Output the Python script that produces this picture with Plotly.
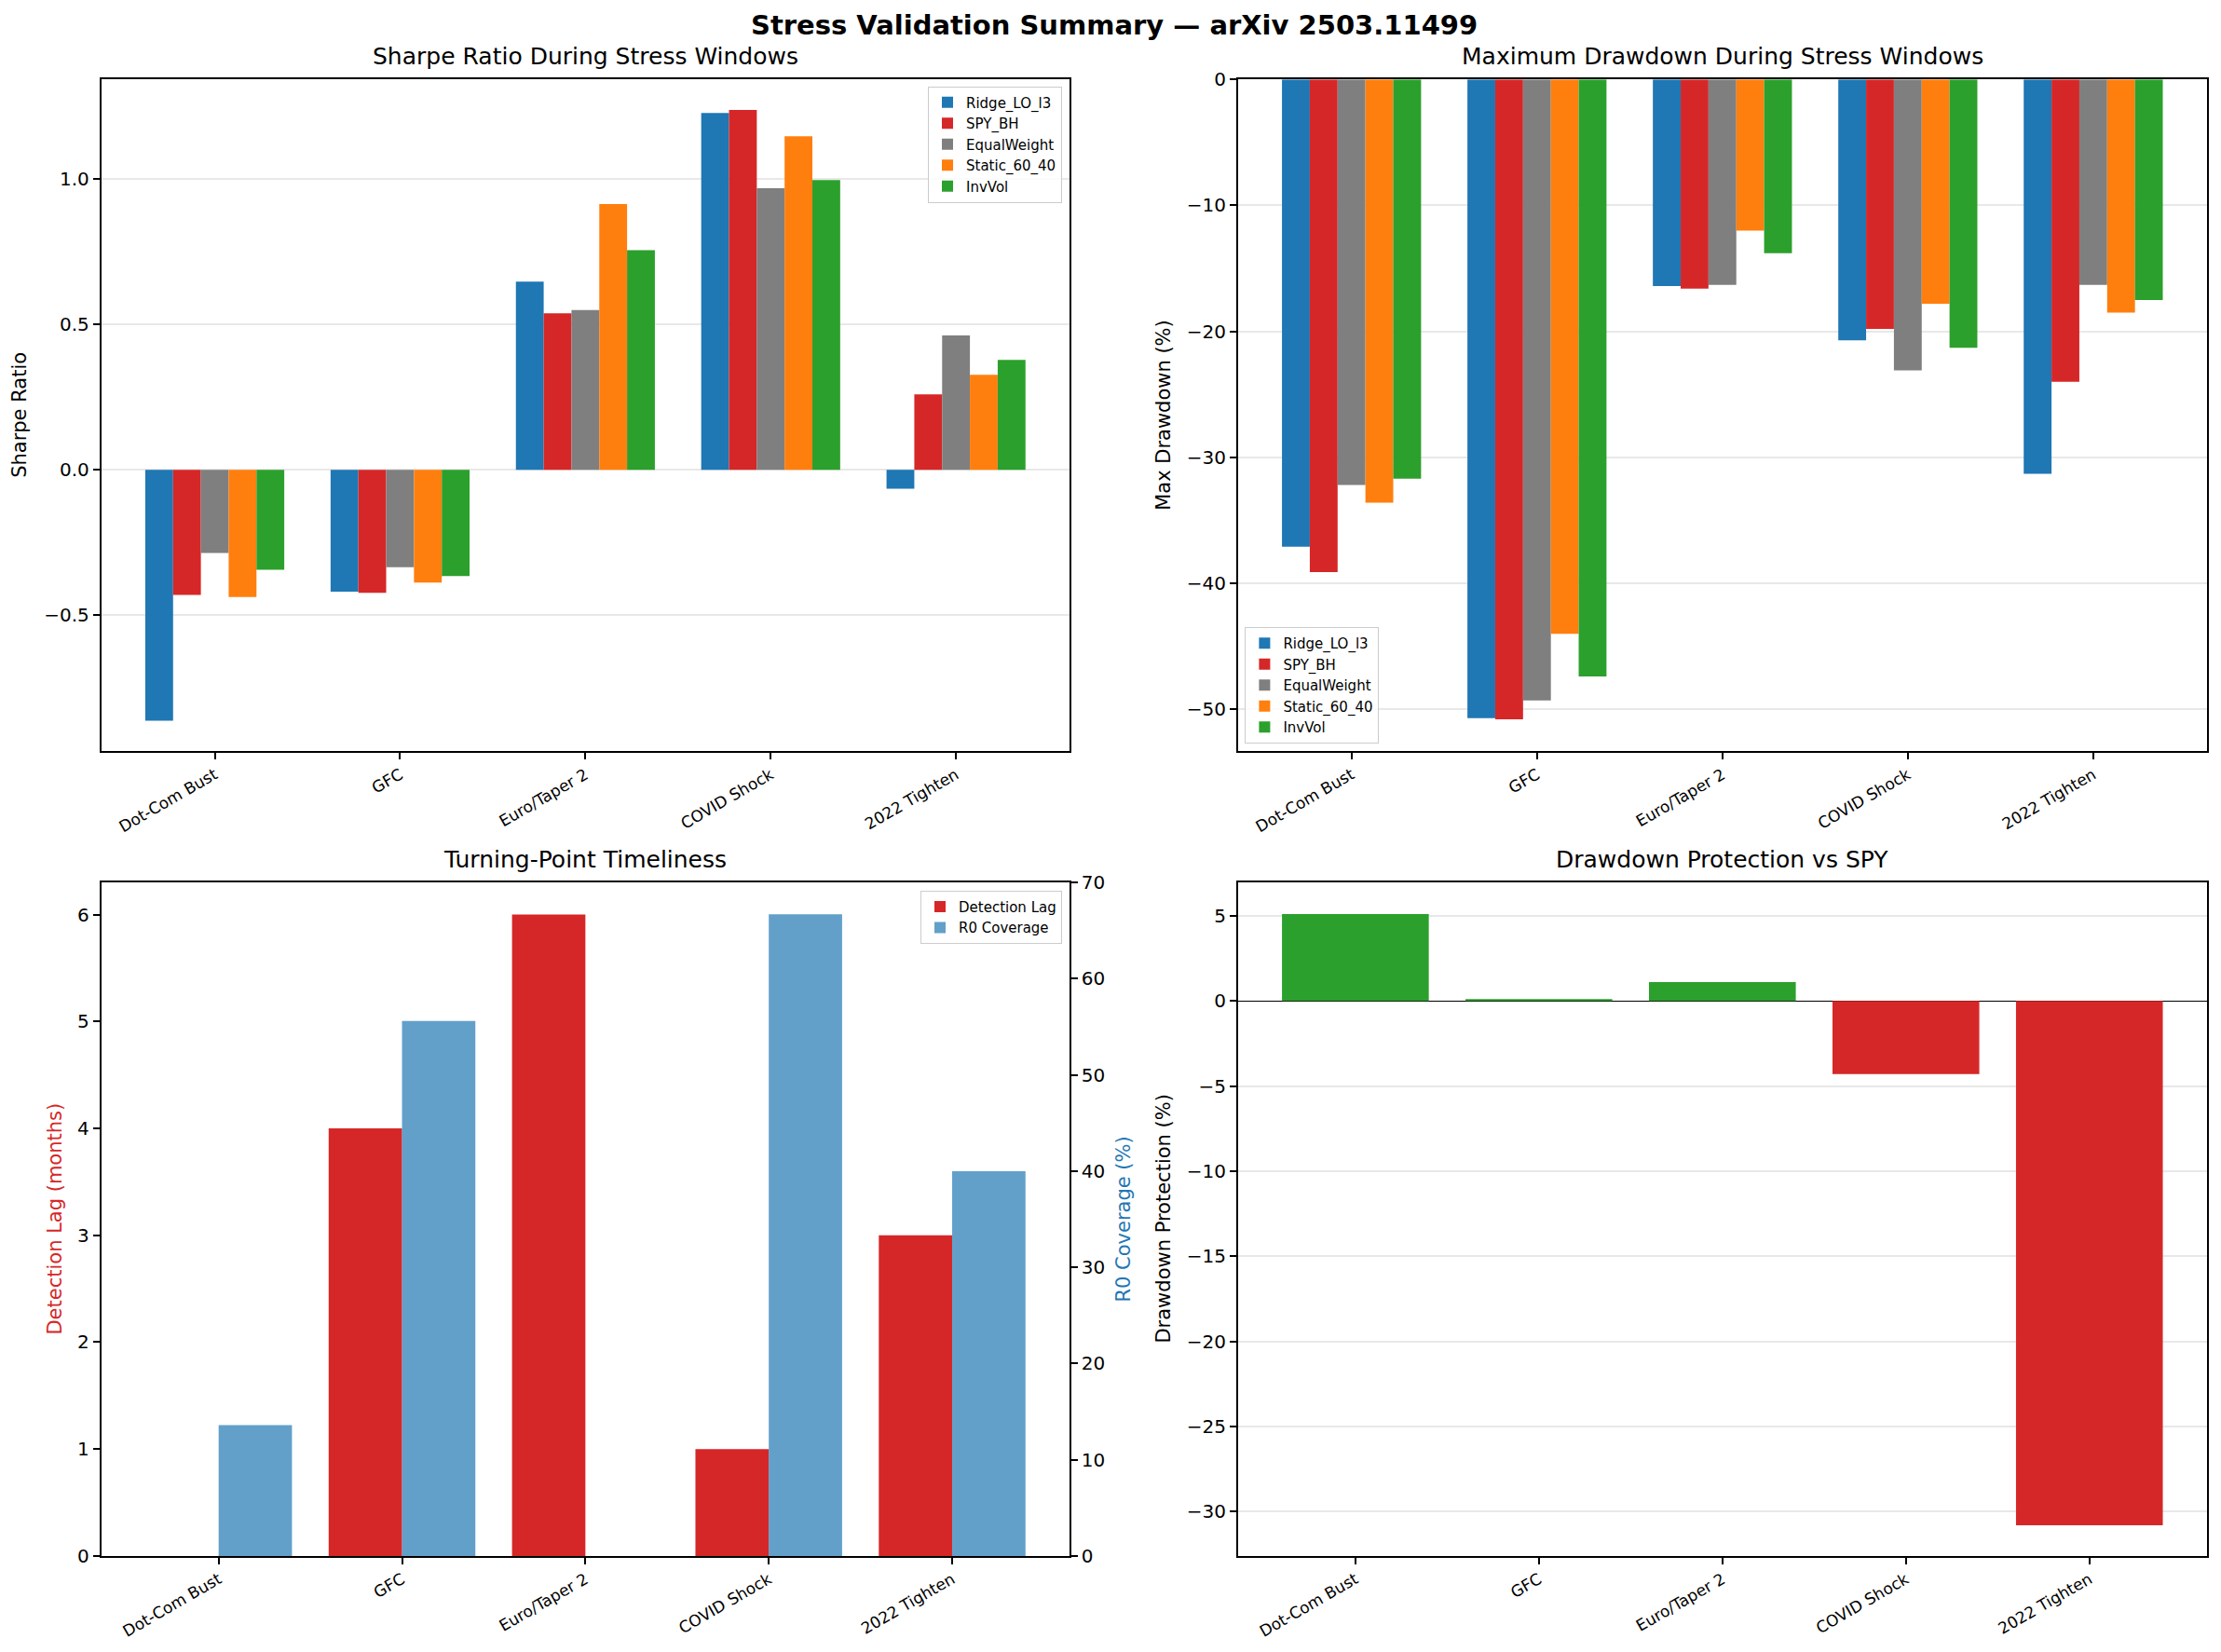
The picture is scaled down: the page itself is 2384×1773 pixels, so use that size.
import plotly.graph_objects as go

# 数据
windows = ['Dot-Com Bust', 'GFC', 'Euro/Taper 2', 'COVID Shock', '2022 Tighten']
strategies = ['Ridge_LO_l3', 'SPY_BH', 'EqualWeight', 'Static_60_40', 'InvVol']
strat_colors = ['#1f77b4', '#d62728', '#7f7f7f', '#ff7f0e', '#2ca02c']

sharpe = {
    'Ridge_LO_l3': [-0.863, -0.419, 0.647, 1.227, -0.065],
    'SPY_BH': [-0.430, -0.423, 0.538, 1.237, 0.259],
    'EqualWeight': [-0.286, -0.335, 0.549, 0.968, 0.462],
    'Static_60_40': [-0.437, -0.388, 0.914, 1.147, 0.327],
    'InvVol': [-0.344, -0.365, 0.755, 0.996, 0.378],
}
max_dd = {
    'Ridge_LO_l3': [-37.1, -50.7, -16.4, -20.7, -31.3],
    'SPY_BH': [-39.1, -50.8, -16.6, -19.8, -24.0],
    'EqualWeight': [-32.2, -49.3, -16.3, -23.1, -16.3],
    'Static_60_40': [-33.6, -44.0, -12.0, -17.8, -18.5],
    'InvVol': [-31.7, -47.4, -13.8, -21.3, -17.5],
}
detection_lag = [0, 4, 6, 1, 3]
r0_coverage = [13.6, 55.6, 0.0, 66.7, 40.0]
dd_protection = [5.1, 0.1, 1.1, -4.3, -30.8]

W, H = 2384, 1773
OFF = 8  # 页面 body 默认 8px 边距
FONT = 'DejaVu Sans'
pos = list(range(len(windows)))


def px_x(v):
    return (v - OFF) / W


def px_y(v):
    return 1 - (v - OFF) / H


# 子图位置 (left, right, top, bottom) 像素
boxes = {
    1: (108.7, 1148, 85.3, 806.4),
    2: (1328.8, 2368.8, 85.3, 806.4),
    3: (108.7, 1148, 947.2, 1669.9),
    4: (1328.8, 2368.8, 947.2, 1669.9),
}

fig = go.Figure()

# 1) Sharpe
bw = 0.15
for i, s in enumerate(strategies):
    fig.add_trace(go.Bar(x=pos, y=sharpe[s], name=s, width=bw, offset=-0.375 + i * bw,
                         marker=dict(color=strat_colors[i], line=dict(width=0)),
                         xaxis='x', yaxis='y', legend='legend'))

# 2) Max drawdown
for i, s in enumerate(strategies):
    fig.add_trace(go.Bar(x=pos, y=max_dd[s], name=s, width=bw, offset=-0.375 + i * bw,
                         marker=dict(color=strat_colors[i], line=dict(width=0)),
                         xaxis='x2', yaxis='y2', legend='legend2'))

# 3) Turning-point timeliness
fig.add_trace(go.Bar(x=pos, y=detection_lag, name='Detection Lag', width=0.4, offset=-0.4,
                     marker=dict(color='#d62728', line=dict(width=0)),
                     xaxis='x3', yaxis='y3', legend='legend3'))
fig.add_trace(go.Bar(x=pos, y=r0_coverage, name='R0 Coverage', width=0.4, offset=0.0,
                     marker=dict(color='rgba(31,119,180,0.7)', line=dict(width=0)),
                     xaxis='x3', yaxis='y5', legend='legend3'))

# 4) Drawdown protection
prot_colors = ['#2ca02c' if v >= 0 else '#d62728' for v in dd_protection]
fig.add_trace(go.Bar(x=pos, y=dd_protection, width=0.8, showlegend=False,
                     marker=dict(color=prot_colors, line=dict(width=0)),
                     xaxis='x4', yaxis='y4'))

axis_common = dict(showline=True, linecolor='black', linewidth=1.7, mirror=True,
                   ticks='outside', ticklen=7, tickwidth=1.7, tickcolor='black',
                   automargin=False, zeroline=False)
xtick_font = dict(family=FONT, size=17, color='black')
ytick_font = dict(family=FONT, size=20, color='black')

layout = dict(
    width=W, height=H, margin=dict(l=0, r=0, t=0, b=0),
    plot_bgcolor='white', paper_bgcolor='white', barmode='overlay',
    font=dict(family=FONT, color='black'),
)

for k in (1, 2, 3, 4):
    l, r, t, b = boxes[k]
    xa = 'xaxis' if k == 1 else 'xaxis%d' % k
    ya = 'yaxis' if k == 1 else 'yaxis%d' % k
    layout[xa] = dict(axis_common, domain=[px_x(l), px_x(r)], anchor='y' if k == 1 else 'y%d' % k,
                      tickvals=pos, ticktext=windows, tickangle=-30, tickfont=xtick_font,
                      showgrid=False)
    layout[ya] = dict(axis_common, domain=[px_y(b), px_y(t)], anchor='x' if k == 1 else 'x%d' % k,
                      tickfont=ytick_font, showgrid=True, gridcolor='#e8e8e8', gridwidth=1.6)

layout['xaxis']['range'] = [-0.6125, 4.6125]
layout['xaxis2']['range'] = [-0.6125, 4.6125]
layout['xaxis3']['range'] = [-0.64, 4.64]
layout['xaxis4']['range'] = [-0.64, 4.64]

layout['yaxis'].update(range=[-0.968, 1.342], tickvals=[-0.5, 0.0, 0.5, 1.0], tickformat='.1f')
layout['yaxis2'].update(range=[-53.34, 0], tickvals=[-50, -40, -30, -20, -10, 0])
layout['yaxis3'].update(range=[0, 6.3], tickvals=[0, 1, 2, 3, 4, 5, 6], showgrid=False, mirror=False)
layout['yaxis4'].update(range=[-32.6, 6.95], tickvals=[-30, -25, -20, -15, -10, -5, 0, 5],
                        zeroline=True, zerolinecolor='black', zerolinewidth=1)
layout['yaxis5'] = dict(axis_common, overlaying='y3', side='right', anchor='x3',
                        range=[0, 70], tickvals=[0, 10, 20, 30, 40, 50, 60, 70],
                        tickfont=ytick_font, showgrid=False, mirror=False)

leg_common = dict(font=dict(family=FONT, size=15, color='black'), bgcolor='rgba(255,255,255,0.8)',
                  bordercolor='#cccccc', borderwidth=1, tracegroupgap=0)
layout['legend'] = dict(leg_common, x=px_x(1140), y=px_y(92.6), xanchor='right', yanchor='top')
layout['legend2'] = dict(leg_common, x=px_x(1336.4), y=px_y(798), xanchor='left', yanchor='bottom')
layout['legend3'] = dict(leg_common, x=px_x(1140), y=px_y(955.7), xanchor='right', yanchor='top')

fig.update_layout(**layout)

# 标题和轴标题
ann = []
ann.append(dict(text='<b>Stress Validation Summary — arXiv 2503.11499</b>', x=px_x(W / 2 + OFF / 2), y=px_y(27),
                xref='paper', yref='paper', xanchor='center', yanchor='middle', showarrow=False,
                font=dict(family=FONT, size=29, color='black')))
sub_titles = {1: 'Sharpe Ratio During Stress Windows', 2: 'Maximum Drawdown During Stress Windows',
              3: 'Turning-Point Timeliness', 4: 'Drawdown Protection vs SPY'}
for k, txt in sub_titles.items():
    l, r, t, b = boxes[k]
    ann.append(dict(text=txt, x=px_x((l + r) / 2), y=px_y(t - 8), xref='paper', yref='paper',
                    xanchor='center', yanchor='bottom', showarrow=False,
                    font=dict(family=FONT, size=25, color='black')))

ylabels = [
    ('Sharpe Ratio', 21, boxes[1], 'black'),
    ('Max Drawdown (%)', 1249, boxes[2], 'black'),
    ('Detection Lag (months)', 59, boxes[3], '#d62728'),
    ('Drawdown Protection (%)', 1249, boxes[4], 'black'),
    ('R0 Coverage (%)', 1206, boxes[3], '#1f77b4'),
]
for txt, xp, box, col in ylabels:
    ann.append(dict(text=txt, x=px_x(xp), y=px_y((box[2] + box[3]) / 2), xref='paper', yref='paper',
                    xanchor='center', yanchor='middle', textangle=-90, showarrow=False,
                    font=dict(family=FONT, size=21, color=col)))
fig.update_layout(annotations=ann)

fig.write_html("out.html")
